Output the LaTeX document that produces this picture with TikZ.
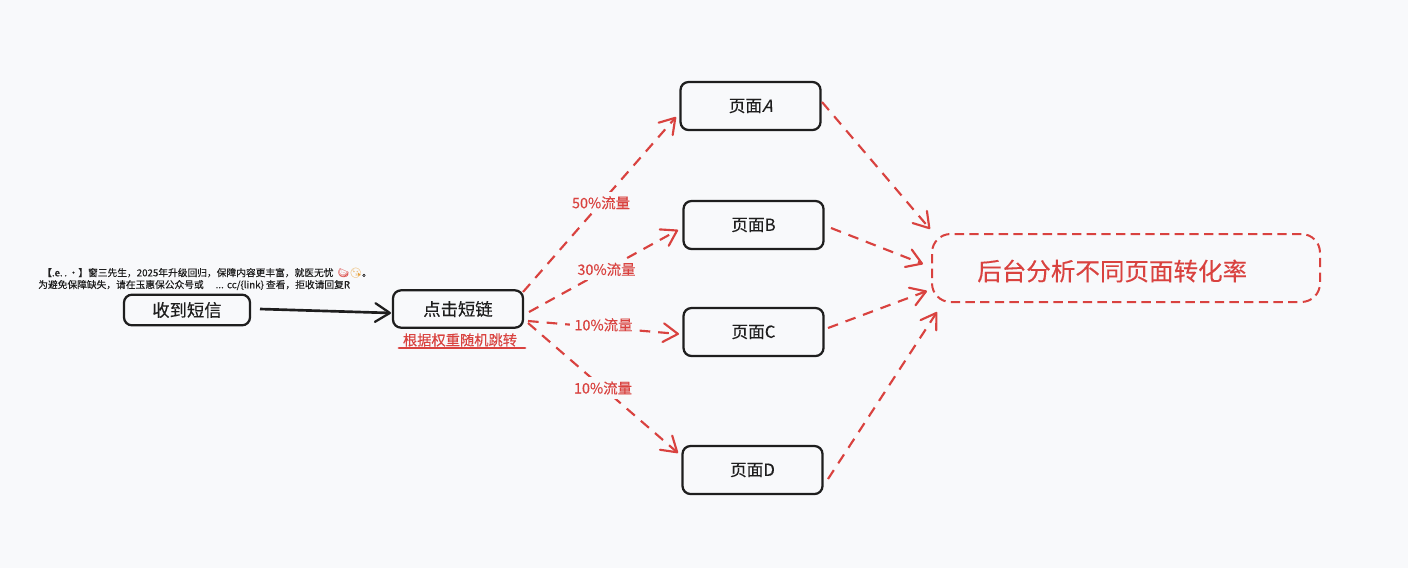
\documentclass[tikz,border=0pt]{standalone}
\usepackage{fontspec}
\setmainfont{Noto Sans CJK SC}[FakeBold=0.25]
\newfontfamily\slantfont{Noto Sans CJK SC}[FakeSlant=0.3,FakeBold=0.25]
\newfontfamily\emojifont{Noto Emoji}
\usetikzlibrary{arrows.meta}
\definecolor{bgc}{HTML}{F8F9FB}
\definecolor{ink}{HTML}{1E1E1E}
\definecolor{redc}{HTML}{D9423F}
\definecolor{smile}{HTML}{E8A33D}
\tikzset{
 x=0.75pt,y=-0.75pt,
 box/.style={draw=ink,line width=1.7pt,rounded corners=6pt,inner sep=0pt,fill=bgc,font=\fontsize{12.5}{14}\selectfont,text=ink},
 redbox/.style={draw=redc,line width=1.5pt,dash pattern=on 7pt off 4pt,rounded corners=14pt,inner sep=0pt},
 flow/.style={draw=redc,line width=1.6pt,dash pattern=on 8pt off 6pt,-{Straight Barb[length=11pt,width=14pt,line width=1.6pt,round]}},
 lab/.style={fill=bgc,text=redc,inner sep=3pt,font=\fontsize{10.8}{12}\selectfont},
 main/.style={draw=ink,line width=2pt,-{Straight Barb[length=11pt,width=14pt,line width=1.7pt,round]}},
}
\begin{document}
\begin{tikzpicture}
\fill[bgc] (0,0) rectangle (1408,568);
\useasboundingbox (0,0) rectangle (1408,568);
\node[box,minimum width=94.5pt,minimum height=23pt,font=\fontsize{13}{15}\selectfont] (recv) at (187,310) {收到短信};
\node[box,minimum width=97.5pt,minimum height=28pt,font=\fontsize{13}{15}\selectfont] (click) at (458,309) {点击短链};
\node[box,minimum width=105pt,minimum height=36pt] (pa) at (750.5,106) {页面{\slantfont A}};
\node[box,minimum width=105pt,minimum height=36pt] (pb) at (753.5,225) {页面B};
\node[box,minimum width=105pt,minimum height=36pt] (pc) at (753.5,332) {页面C};
\node[box,minimum width=105pt,minimum height=36pt] (pd) at (752.5,470) {页面D};
\node[redbox,minimum width=291pt,minimum height=51pt] (res) at (1126,268) {};
\node[text=redc,font=\fontsize{18.4}{22}\selectfont,anchor=west,inner sep=0pt] (restext) at (977,271) {后台分析不同页面转化率};
\node[anchor=west,inner sep=0pt,text=ink,font=\fontsize{7.3}{8}\selectfont] (sms1) at (42,273) {【.e.\,.\,\textbullet】窗三先生，2025年升级回归，保障内容更丰富，就医无忧 \,{\emojifont\color{redc}🍉\color{smile}😘}。};
\node[anchor=west,inner sep=0pt,text=ink,font=\fontsize{7.3}{8}\selectfont] (sms2) at (38,285) {为避免保障缺失，请在玉惠保公众号或 \quad...\,\,cc/\{link\} 查看，拒收请回复R};
\node[text=redc,inner sep=0pt,font=\fontsize{10.7}{12}\selectfont] (rule) at (460,340) {根据权重随机跳转};
\coordinate (u1) at (399,348); \coordinate (u2) at (525,348);
\draw[redc,line width=2.2pt,line cap=round] (u1) -- (u2);
\coordinate (s0) at (260,309); \coordinate (e0) at (391,313);
\draw[main] (s0) -- (e0);
\coordinate (a1) at (523,292); \coordinate (a2) at (676,117);
\coordinate (b1) at (529,312); \coordinate (b2) at (678,230);
\coordinate (c1) at (528,321); \coordinate (c2) at (679,334);
\coordinate (d1) at (528,323); \coordinate (d2) at (678,453);
\draw[flow] (a1) -- (a2) node[lab,pos=0.51] (l1) {50\%流量};
\draw[flow] (b1) -- (b2) node[lab,pos=0.52] (l2) {30\%流量};
\draw[flow] (c1) -- (c2) node[lab,pos=0.5,yshift=2pt] (l3) {10\%流量};
\draw[flow] (d1) -- (d2) node[lab,pos=0.5] (l4) {10\%流量};
\coordinate (ra) at (822,102); \coordinate (rae) at (930,229);
\coordinate (rb) at (831,228); \coordinate (rbe) at (923,264);
\coordinate (rc) at (828,328); \coordinate (rce) at (927,291);
\coordinate (rd) at (828,479); \coordinate (rde) at (937,312);
\draw[flow] (ra) -- (rae);
\draw[flow] (rb) -- (rbe);
\draw[flow] (rc) -- (rce);
\draw[flow] (rd) -- (rde);
\end{tikzpicture}
\end{document}
